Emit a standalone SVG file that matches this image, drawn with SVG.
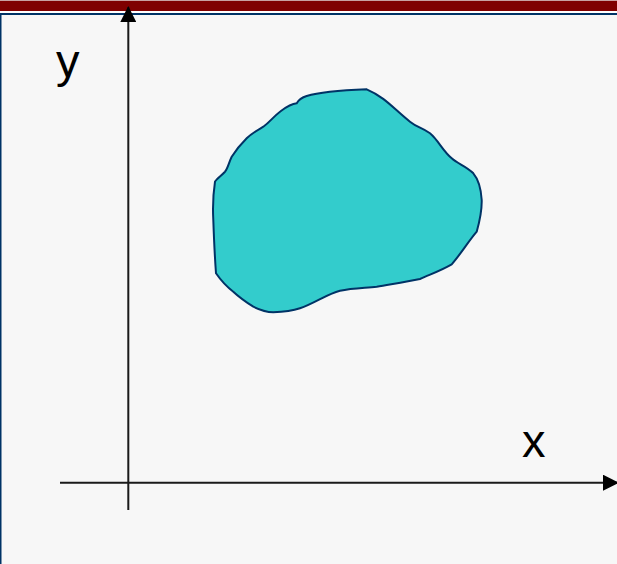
<svg xmlns="http://www.w3.org/2000/svg" width="617" height="564" viewBox="0 0 617 564">
<style>
.axis{stroke:#1a1a1a;stroke-width:2;fill:none}
.lbl{font-family:"Liberation Sans",Arial,sans-serif;font-size:47px;fill:#000}
</style>
<defs>
<marker id="ah" markerWidth="16" markerHeight="16" viewBox="0 0 16 16" refX="15" refY="8" orient="auto" markerUnits="userSpaceOnUse">
<path d="M0,0 L16,8 L0,16 Z" fill="#000"/>
</marker>
</defs>
<rect x="0" y="0" width="617" height="564" fill="#f7f7f7"/>
<rect x="0" y="0" width="617" height="1" fill="#c8a0a0"/>
<rect x="0" y="1" width="617" height="10" fill="#7f0000"/>
<rect x="0" y="11" width="617" height="2" fill="#ffffff"/>
<rect x="0" y="13" width="617" height="2" fill="#003366"/>
<rect x="0" y="13" width="1.5" height="551" fill="#003366"/>
<g id="shape">
<path d="M366.7,89.3 C350,90 320,92 306.7,96 C300,98 298,101 296.7,103.3 C290,104 285,108 280,111.7 C273,117 270,122 263.3,126.7 C256,131 252,133 246.7,138.3 C240,145 236,150 231.7,156.7 C229,162 228,168 225,171.7 C221,176 216,179 215,181.7 C213,195 212.5,205 213.3,220 C214,240 215,260 216,273.3 C222,282 227,287 233.3,291.7 C240,298 246,302 253.3,306.7 C260,310 266,312 273.3,312.3 C282,312 292,311 300,308.3 C315,303 327,294 340,290.7 C352,288 364,288 376.7,286.7 C392,284 406,282 420,279 C431,274 442,270 451.7,264.3 C460,255 468,242 476.7,231.7 C480,220 482,212 481.7,200 C481,188 479,180 473.3,173.3 C466,166 458,164 451.7,158.3 C443,151 438,140 430,133.3 C421,127 418,128 410,121.7 C395,110 385,97 366.7,89.3 Z" fill="#33cccc" stroke="#003366" stroke-width="2"/>
</g>
<g id="connectors">
<line class="axis" x1="128.3" y1="510" x2="128.3" y2="7" marker-end="url(#ah)"/>
<line class="axis" x1="60" y1="482.7" x2="618" y2="482.7" marker-end="url(#ah)"/>
</g>
<g id="labels">
<text class="lbl" x="56" y="77">y</text>
<text class="lbl" x="522" y="456.7">x</text>
</g>
</svg>
